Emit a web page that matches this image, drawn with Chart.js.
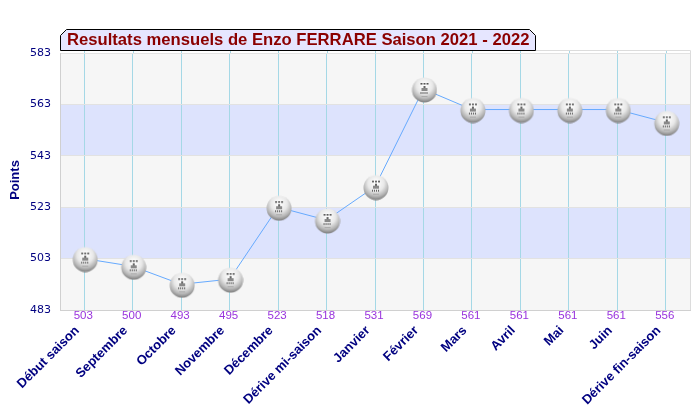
<!DOCTYPE html>
<html>
<head>
<meta charset="utf-8">
<title>Resultats mensuels</title>
<script src="https://cdn.jsdelivr.net/npm/chart.js@4"></script>
<style>
  html, body { margin: 0; padding: 0; background: #fff; }
  canvas { display: block; }
</style>
</head>
<body>
<canvas id="graphique" width="700" height="420"></canvas>
<script>
"use strict";
const titre = 'Resultats mensuels de Enzo FERRARE Saison 2021 - 2022';
const categories = ['Début saison', 'Septembre', 'Octobre', 'Novembre', 'Décembre', 'Dérive mi-saison',
    'Janvier', 'Février', 'Mars', 'Avril', 'Mai', 'Juin', 'Dérive fin-saison'];
const points = [503, 500, 493, 495, 523, 518, 531, 569, 561, 561, 561, 561, 556];
const yTicks = [483, 503, 523, 543, 563, 583];
const bandColors = ['#f6f6f6', '#dde3fd', '#f6f6f6', '#dde3fd', '#f6f6f6'];

// bille grise avec le petit blason, utilisee comme point
function makeBall() {
    const c = document.createElement('canvas');
    c.width = 28;
    c.height = 28;
    const g = c.getContext('2d');
    g.translate(2, 2);
    const grad = g.createRadialGradient(13, 8, 1, 13, 9, 17);
    grad.addColorStop(0, '#ffffff');
    grad.addColorStop(0.45, '#e8e8e8');
    grad.addColorStop(0.75, '#b4b4b4');
    grad.addColorStop(1, '#747474');
    g.fillStyle = grad;
    g.beginPath();
    g.arc(13, 13, 12.5, 0, Math.PI * 2);
    g.fill();
    g.fillStyle = '#555';
    [9, 12, 15].forEach((x) => g.fillRect(x, 6, 2, 1));
    g.fillStyle = '#999';
    [9, 12, 15].forEach((x) => g.fillRect(x, 7, 2, 1));
    g.fillStyle = '#666';
    g.fillRect(12, 9, 2, 3);
    g.fillStyle = '#888';
    g.fillRect(10, 11, 6, 3);
    g.fillStyle = '#666';
    [9, 11, 13, 15].forEach((x) => g.fillRect(x, 15, 1, 2));
    g.fillStyle = '#aaa';
    g.fillRect(10, 19, 6, 1);
    return c;
}

const bandes = {
    id: 'bandes',
    beforeDraw(chart) {
        const { ctx, chartArea, scales } = chart;
        bandColors.forEach((color, i) => {
            const top = scales.y.getPixelForValue(yTicks[i + 1]);
            const bottom = scales.y.getPixelForValue(yTicks[i]);
            ctx.fillStyle = color;
            ctx.fillRect(chartArea.left, top, chartArea.right - chartArea.left, bottom - top);
        });
    },
    beforeDatasetsDraw(chart) {
        const { ctx, chartArea, scales } = chart;
        ctx.save();
        ctx.lineWidth = 1;
        // grilles prolongees jusqu'au cadre du haut
        ctx.strokeStyle = '#a5d8e6';
        categories.forEach((c, i) => {
            const x = Math.round(scales.x.getPixelForValue(i)) + 0.5;
            ctx.beginPath();
            ctx.moveTo(x, chartArea.top - 2.5);
            ctx.lineTo(x, chartArea.top);
            ctx.stroke();
        });
        ctx.strokeStyle = '#dcdcdc';
        ctx.beginPath();
        ctx.moveTo(chartArea.left, chartArea.top - 2.5);
        ctx.lineTo(chartArea.right + 0.5, chartArea.top - 2.5);
        ctx.lineTo(chartArea.right + 0.5, chartArea.bottom);
        ctx.stroke();
        ctx.restore();
    }
};

const decor = {
    id: 'decor',
    afterDraw(chart) {
        const { ctx, scales } = chart;
        // valeurs sous l'axe
        ctx.save();
        ctx.font = '11.5px "Liberation Sans"';
        ctx.fillStyle = '#9933dd';
        ctx.textAlign = 'center';
        ctx.textBaseline = 'middle';
        points.forEach((v, i) => {
            ctx.fillText(String(v), scales.x.getPixelForValue(i) - 1, 316);
        });
        // cadre du titre
        ctx.beginPath();
        ctx.moveTo(60.5, 50.5);
        ctx.lineTo(60.5, 35.5);
        ctx.lineTo(66.5, 29.5);
        ctx.lineTo(529.5, 29.5);
        ctx.lineTo(535.5, 35.5);
        ctx.lineTo(535.5, 50.5);
        ctx.closePath();
        ctx.fillStyle = '#e6e6ff';
        ctx.fill();
        ctx.strokeStyle = '#000';
        ctx.lineWidth = 1;
        ctx.stroke();
        ctx.font = 'bold 16.65px "Liberation Sans"';
        ctx.fillStyle = '#8b0000';
        ctx.textAlign = 'left';
        ctx.fillText(titre, 67, 40.5);
        // titre de l'axe
        ctx.translate(15, 180);
        ctx.rotate(-Math.PI / 2);
        ctx.font = 'bold 13px "Liberation Sans"';
        ctx.fillStyle = '#000080';
        ctx.textAlign = 'center';
        ctx.fillText('Points', 0, 0);
        ctx.restore();
    }
};

new Chart(document.getElementById('graphique'), {
    type: 'line',
    data: {
        labels: categories,
        datasets: [{
            data: points,
            borderColor: '#66aaff',
            borderWidth: 1,
            tension: 0,
            pointStyle: makeBall(),
            pointRadius: 13,
            clip: false
        }]
    },
    options: {
        responsive: false,
        animation: false,
        layout: { autoPadding: false, padding: { top: 53, right: 10 } },
        plugins: { legend: { display: false }, tooltip: { enabled: false } },
        scales: {
            x: {
                offset: true,
                afterFit(scale) {
                    scale.height = 110;
                    scale.paddingLeft = 0;
                    scale.paddingRight = 0;
                },
                grid: { color: '#a5d8e6', drawTicks: false, offset: false },
                border: { color: '#d0d0d0' },
                ticks: {
                    autoSkip: false,
                    minRotation: 45,
                    maxRotation: 45,
                    padding: 13,
                    labelOffset: -7,
                    color: '#000080',
                    font: { family: '"Liberation Sans"', size: 13, weight: 'bold' }
                }
            },
            y: {
                min: 483,
                max: 583,
                afterFit(scale) { scale.width = 60; },
                afterBuildTicks(scale) { scale.ticks = yTicks.map((v) => ({ value: v })); },
                grid: { color: '#e2e2e2', drawTicks: false },
                border: { color: '#d0d0d0' },
                ticks: {
                    padding: 9,
                    color: '#000080',
                    font: { family: '"DejaVu Sans"', size: 11 }
                }
            }
        }
    },
    plugins: [bandes, decor]
});
</script>
</body>
</html>
